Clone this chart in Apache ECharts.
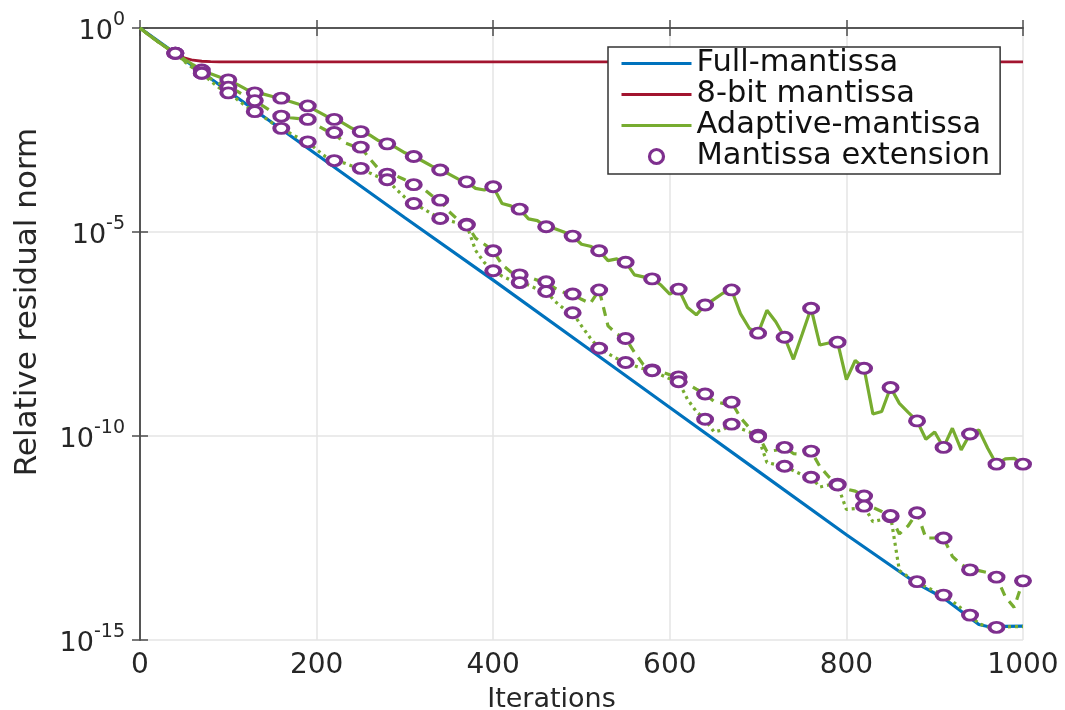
<!DOCTYPE html>
<html>
<head>
<meta charset="utf-8">
<script src="https://cdn.jsdelivr.net/npm/echarts@6/dist/echarts.min.js"></script>
<style>
  html, body { margin: 0; padding: 0; background: #fff; }
  #chart { width: 1065px; height: 710px; }
</style>
</head>
<body>
<div id="chart"></div>
<script>
// Relative residual norm, stored as log10 values (plotted on a decade axis).

// Iterations at which the adaptive-mantissa curves are sampled
const iterations = [
  0, 10, 20, 30, 40, 50, 60, 70, 80, 90,
  100, 110, 120, 130, 140, 150, 160, 170, 180, 190,
  200, 210, 220, 230, 240, 250, 260, 270, 280, 290,
  300, 310, 320, 330, 340, 350, 360, 370, 380, 390,
  400, 410, 420, 430, 440, 450, 460, 470, 480, 490,
  500, 510, 520, 530, 540, 550, 560, 570, 580, 590,
  600, 610, 620, 630, 640, 650, 660, 670, 680, 690,
  700, 710, 720, 730, 740, 750, 760, 770, 780, 790,
  800, 810, 820, 830, 840, 850, 860, 870, 880, 890,
  900, 910, 920, 930, 940, 950, 960, 970, 980, 990,
  1000
];

// Full-mantissa reference solve
const fullIters = [0, 100, 200, 300, 400, 500, 600, 700, 800, 880, 910, 950, 960, 1000];
const fullLog = [0, -1.55, -3.1, -4.65, -6.18, -7.74, -9.3, -10.86, -12.42, -13.62, -13.97, -14.62, -14.67, -14.66];

// 8-bit mantissa solve (stagnates)
const bit8Iters = [0, 10, 20, 30, 40, 50, 60, 70, 80, 90, 1000];
const bit8Log = [0, -0.17, -0.33, -0.48, -0.62, -0.73, -0.79, -0.815, -0.825, -0.83, -0.83];

// Adaptive-mantissa runs: solid, dashed and dotted variants
const adaptSolid = [
  0, -0.17, -0.33, -0.48, -0.62, -0.76, -0.9, -1.03, -1.12, -1.2,
  -1.27, -1.38, -1.5, -1.59, -1.62, -1.68, -1.72, -1.8, -1.87, -1.91,
  -2.03, -2.15, -2.24, -2.33, -2.46, -2.54, -2.62, -2.76, -2.84, -2.93,
  -3.06, -3.15, -3.26, -3.38, -3.48, -3.58, -3.7, -3.77, -3.93, -3.97,
  -3.89, -4.3, -4.36, -4.44, -4.68, -4.72, -4.87, -4.92, -5.0, -5.1,
  -5.3, -5.35, -5.46, -5.7, -5.66, -5.74, -6.05, -6.1, -6.15, -6.3,
  -6.52, -6.4, -6.85, -7.03, -6.79, -6.65, -6.5, -6.42, -7.0, -7.36,
  -7.48, -6.92, -7.2, -7.58, -8.12, -7.5, -6.87, -7.77, -7.72, -7.7,
  -8.62, -8.15, -8.34, -9.46, -9.4, -8.81, -9.2, -9.42, -9.63, -10.08,
  -9.9, -10.28, -9.81, -10.34, -9.95, -9.85, -10.3, -10.69, -10.56, -10.55,
  -10.69
];
const adaptDashed = [
  0, -0.17, -0.33, -0.48, -0.62, -0.8, -0.97, -1.11, -1.24, -1.36,
  -1.45, -1.55, -1.68, -1.78, -1.92, -2.06, -2.16, -2.2, -2.22, -2.24,
  -2.38, -2.5, -2.56, -2.8, -2.88, -2.92, -3.2, -3.45, -3.58, -3.62,
  -3.72, -3.84, -3.92, -4.1, -4.22, -4.5, -4.7, -4.81, -5.15, -5.3,
  -5.46, -5.8, -5.98, -6.05, -6.1, -6.18, -6.22, -6.38, -6.48, -6.52,
  -6.65, -6.75, -6.42, -7.3, -7.5, -7.61, -7.95, -8.25, -8.38, -8.42,
  -8.5, -8.55, -8.72, -8.85, -8.97, -9.15, -9.2, -9.17, -9.55, -9.8,
  -9.98, -10.38, -10.35, -10.28, -10.43, -10.45, -10.37, -10.75, -11.0, -11.18,
  -11.3, -11.35, -11.47, -11.75, -11.85, -11.98, -12.4, -12.2, -11.88, -12.5,
  -12.5, -12.5, -12.95, -13.15, -13.28, -13.3, -13.35, -13.46, -13.94, -14.2,
  -13.55
];
const adaptDotted = [
  0, -0.17, -0.33, -0.48, -0.62, -0.82, -0.98, -1.11, -1.3, -1.47,
  -1.59, -1.75, -1.92, -2.05, -2.18, -2.33, -2.46, -2.58, -2.7, -2.79,
  -2.98, -3.15, -3.25, -3.3, -3.38, -3.44, -3.55, -3.65, -3.72, -3.95,
  -4.15, -4.3, -4.42, -4.55, -4.67, -4.72, -4.78, -4.83, -5.45, -5.75,
  -5.95, -6.08, -6.18, -6.24, -6.3, -6.4, -6.46, -6.7, -6.88, -6.98,
  -7.3, -7.6, -7.85, -7.98, -8.1, -8.2, -8.28, -8.35, -8.4, -8.5,
  -8.6, -8.67, -9.1, -9.4, -9.59, -9.9, -9.85, -9.71, -9.82, -9.9,
  -10.02, -10.65, -10.7, -10.74, -10.85, -10.95, -11.01, -11.25, -11.2, -11.2,
  -11.8, -11.78, -11.72, -12.1, -12.05, -11.95, -13.3, -13.45, -13.57, -13.7,
  -13.8, -13.9, -14.05, -14.22, -14.39, -14.6, -14.68, -14.69, -14.68, -14.67,
  -14.67
];

// Iterations where a mantissa extension happened
const extensionIters = [
  40, 70, 100, 130, 160, 190, 220, 250, 280, 310, 340,
  370, 400, 430, 460, 490, 520, 550, 580, 610, 640, 670,
  700, 730, 760, 790, 820, 850, 880, 910, 940, 970, 1000
];
const dottedExtensionIters = extensionIters.slice(0, -1);

// Axis ticks
const xTicks = { min: 0, max: 1000, step: 200 };
const yDecades = { min: -15, max: 0, step: 5 };

const FONT = 'DejaVu Sans';
const TEXT = '#262626';
const AXIS = '#4d4d4d';
const GRID = '#e4e4e4';
const BLUE = '#0072BD';
const RED = '#A2142F';
const GREEN = '#77AC30';
const PURPLE = '#7E2F8E';

const pairs = (xs, ys) => xs.map((x, i) => [x, ys[i]]);
const pick = (ys, its) => its.map(it => [it, ys[iterations.indexOf(it)]]);
const ring = 'path://M0,-10A10,10,0,1,1,0,10A10,10,0,1,1,0,-10Z';

const chart = echarts.init(document.getElementById('chart'), null, { renderer: 'canvas' });

const sideAxisX = {
  type: 'value', position: 'top', min: xTicks.min, max: xTicks.max, interval: xTicks.step,
  axisLine: { show: true, lineStyle: { color: AXIS, width: 1.5 } },
  axisTick: { show: true, inside: true, length: 8, lineStyle: { color: AXIS, width: 1.5 } },
  axisLabel: { show: false }, splitLine: { show: false }
};
const sideAxisY = {
  type: 'value', position: 'right', min: yDecades.min, max: yDecades.max, interval: yDecades.step,
  axisLine: { show: true, lineStyle: { color: AXIS, width: 1.5 } },
  axisTick: { show: true, inside: true, length: 8, lineStyle: { color: AXIS, width: 1.5 } },
  axisLabel: { show: false }, splitLine: { show: false }
};

// line entries in the legend show only the stroke
const lineEntry = name => ({ name, itemStyle: { opacity: 0 } });

chart.setOption({
  animation: false,
  backgroundColor: '#fff',
  textStyle: { fontFamily: FONT },
  grid: { left: 140, right: 42, top: 28, bottom: 70, containLabel: false, outerBoundsMode: 'none' },
  legend: {
    orient: 'vertical', left: 608, top: 47,
    padding: [1, 10, 2, 12], itemGap: 0, itemWidth: 70, itemHeight: 14,
    backgroundColor: '#fff', borderColor: '#333', borderWidth: 1.5,
    selectedMode: false,
    lineStyle: { width: 3 },
    textStyle: { fontFamily: FONT, fontSize: 30.5, color: '#111', lineHeight: 30 },
    data: [
      lineEntry('Full-mantissa'),
      lineEntry('8-bit mantissa'),
      lineEntry('Adaptive-mantissa'),
      { name: 'Mantissa extension', itemStyle: { color: '#fff', borderColor: PURPLE, borderWidth: 3.2 } }
    ]
  },
  xAxis: [{
    type: 'value', min: xTicks.min, max: xTicks.max, interval: xTicks.step,
    axisLine: { show: true, lineStyle: { color: AXIS, width: 1.5 } },
    axisTick: { show: true, inside: true, length: 8, lineStyle: { color: AXIS, width: 1.5 } },
    splitLine: { show: true, lineStyle: { color: GRID, width: 1.5 } },
    axisLabel: { fontFamily: FONT, fontSize: 28, color: TEXT, margin: 12, formatter: v => String(v) },
    name: 'Iterations', nameLocation: 'middle', nameGap: 46,
    nameTextStyle: { fontFamily: FONT, fontSize: 27, color: TEXT, padding: [0, 60, 0, 0] }
  }, sideAxisX],
  yAxis: [{
    type: 'value', min: yDecades.min, max: yDecades.max, interval: yDecades.step,
    axisLine: { show: true, lineStyle: { color: AXIS, width: 1.5 } },
    axisTick: { show: true, inside: true, length: 8, lineStyle: { color: AXIS, width: 1.5 } },
    splitLine: { show: true, lineStyle: { color: GRID, width: 1.5 } },
    axisLabel: {
      margin: 15,
      formatter: v => '{b|10}{s|' + v + '}',
      rich: {
        b: { fontFamily: FONT, fontSize: 27, color: TEXT, padding: [7, 0, 0, 0] },
        s: { fontFamily: FONT, fontSize: 19, color: TEXT, padding: [0, 0, 15, 0] }
      }
    },
    name: 'Relative residual norm', nameLocation: 'middle', nameGap: 97,
    nameTextStyle: { fontFamily: FONT, fontSize: 31, color: TEXT, padding: [0, 0, 0, 64] }
  }, sideAxisY],
  series: [
    {
      name: 'Full-mantissa', type: 'line', symbol: 'none', showSymbol: false,
      lineStyle: { color: BLUE, width: 3.2 }, itemStyle: { color: BLUE },
      data: pairs(fullIters, fullLog)
    },
    {
      name: '8-bit mantissa', type: 'line', symbol: 'none', showSymbol: false,
      lineStyle: { color: RED, width: 2.8 }, itemStyle: { color: RED },
      data: pairs(bit8Iters, bit8Log)
    },
    {
      name: 'Adaptive-mantissa', type: 'line', symbol: 'none', showSymbol: false,
      lineStyle: { color: GREEN, width: 3.2 }, itemStyle: { color: GREEN },
      data: pairs(iterations, adaptSolid)
    },
    {
      name: 'Adaptive-mantissa', type: 'line', symbol: 'none', showSymbol: false,
      lineStyle: { color: GREEN, width: 3.2, type: [9, 7] }, itemStyle: { color: GREEN },
      data: pairs(iterations, adaptDashed)
    },
    {
      name: 'Adaptive-mantissa', type: 'line', symbol: 'none', showSymbol: false,
      lineStyle: { color: GREEN, width: 3.2, type: [3, 4] }, itemStyle: { color: GREEN },
      data: pairs(iterations, adaptDotted)
    },
    {
      name: 'Mantissa extension', type: 'scatter', z: 5,
      symbol: ring, symbolSize: [14, 10],
      itemStyle: { color: '#fff', borderColor: PURPLE, borderWidth: 3.4, opacity: 1 },
      data: pick(adaptSolid, extensionIters)
        .concat(pick(adaptDashed, extensionIters))
        .concat(pick(adaptDotted, dottedExtensionIters))
    }
  ]
});
</script>
</body>
</html>
